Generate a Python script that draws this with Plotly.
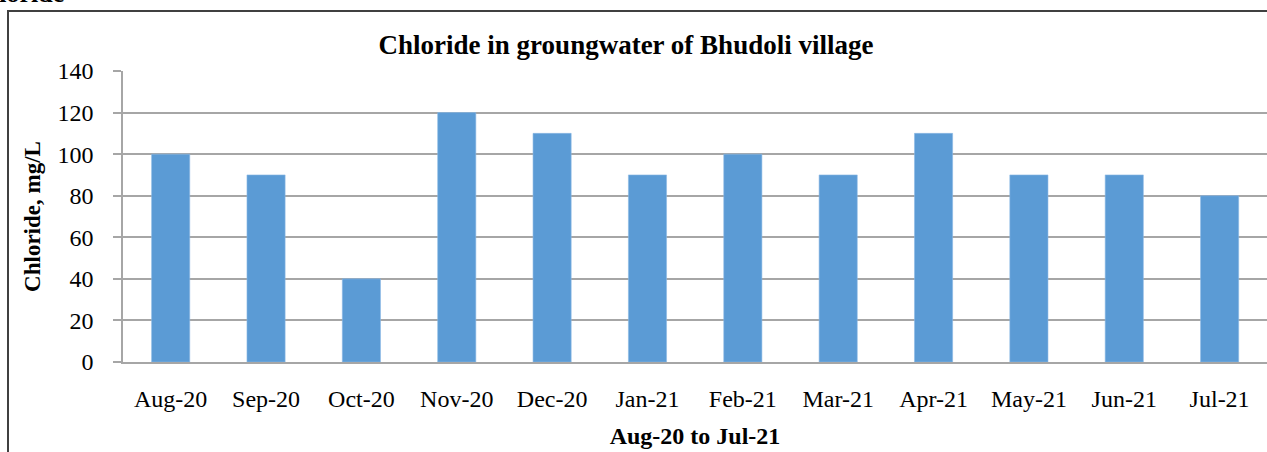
import plotly.graph_objects as go

months = ["Aug-20", "Sep-20", "Oct-20", "Nov-20", "Dec-20", "Jan-21",
          "Feb-21", "Mar-21", "Apr-21", "May-21", "Jun-21", "Jul-21"]
chloride = [100, 90, 40, 120, 110, 90, 100, 90, 110, 90, 90, 80]
y_ticks = [0, 20, 40, 60, 80, 100, 120, 140]

W, H = 1267, 452
L, R, T, B = 123, 1267, 71, 362  # plot area pixel box


def px_x(p):
    return (p - L) / (R - L)


def px_y(p):
    return (B - p) / (B - T)


FONT = "Liberation Serif, Times New Roman, serif"
GRID = "#A6A6A6"

fig = go.Figure(go.Bar(
    x=months, y=chloride,
    marker=dict(color="#5B9BD5", line=dict(color="#8CB8E4", width=0.6)),
    width=0.4,
))

fig.update_layout(
    width=W, height=H,
    margin=dict(l=L, r=W - R, t=T, b=H - B, pad=0),
    paper_bgcolor="white", plot_bgcolor="white",
    showlegend=False,
    font=dict(family=FONT, size=24, color="black"),
    title=dict(text="<b>Chloride in groungwater of Bhudoli village</b>",
               x=626 / W, xanchor="center", y=1 - 45 / H, yanchor="middle",
               font=dict(family=FONT, size=27, color="black")),
    xaxis=dict(
        range=[-0.5, 11.5 - (1267.3 - R) / 95.35],
        showline=True, linecolor=GRID, linewidth=1.5,
        ticks="", showgrid=False,
        tickfont=dict(family=FONT, size=24, color="black"),
        ticklabelstandoff=14,
        title=dict(text="<b>Aug-20 to Jul-21</b>",
                   font=dict(family=FONT, size=24, color="black"),
                   standoff=17),
    ),
    yaxis=dict(
        range=[0, 140], tickvals=y_ticks,
        showline=True, linecolor=GRID, linewidth=1.5,
        showgrid=True, gridcolor=GRID, gridwidth=1.5,
        zeroline=False,
        ticks="outside", ticklen=8, tickcolor=GRID, tickwidth=1.5,
        tickfont=dict(family=FONT, size=24, color="black"),
        ticklabelstandoff=15,
        title=dict(text="<b>Chloride, mg/L</b>",
                   font=dict(family=FONT, size=23, color="black"),
                   standoff=10),
    ),
    shapes=[dict(type="rect", xref="paper", yref="paper",
                 x0=px_x(8), x1=px_x(1290), y0=px_y(11), y1=px_y(480),
                 line=dict(color="#404040", width=2), fillcolor="rgba(0,0,0,0)",
                 layer="below")],
    annotations=[dict(text="<b>Chloride</b>", xref="paper", yref="paper",
                      x=px_x(66), y=px_y(10), xanchor="right", yanchor="bottom",
                      showarrow=False,
                      font=dict(family=FONT, size=26, color="black"))],
)

fig.write_html("out.html",
               config={"displayModeBar": False},
               post_script="document.body.style.margin='0';"
                           "document.body.style.overflow='hidden';")
